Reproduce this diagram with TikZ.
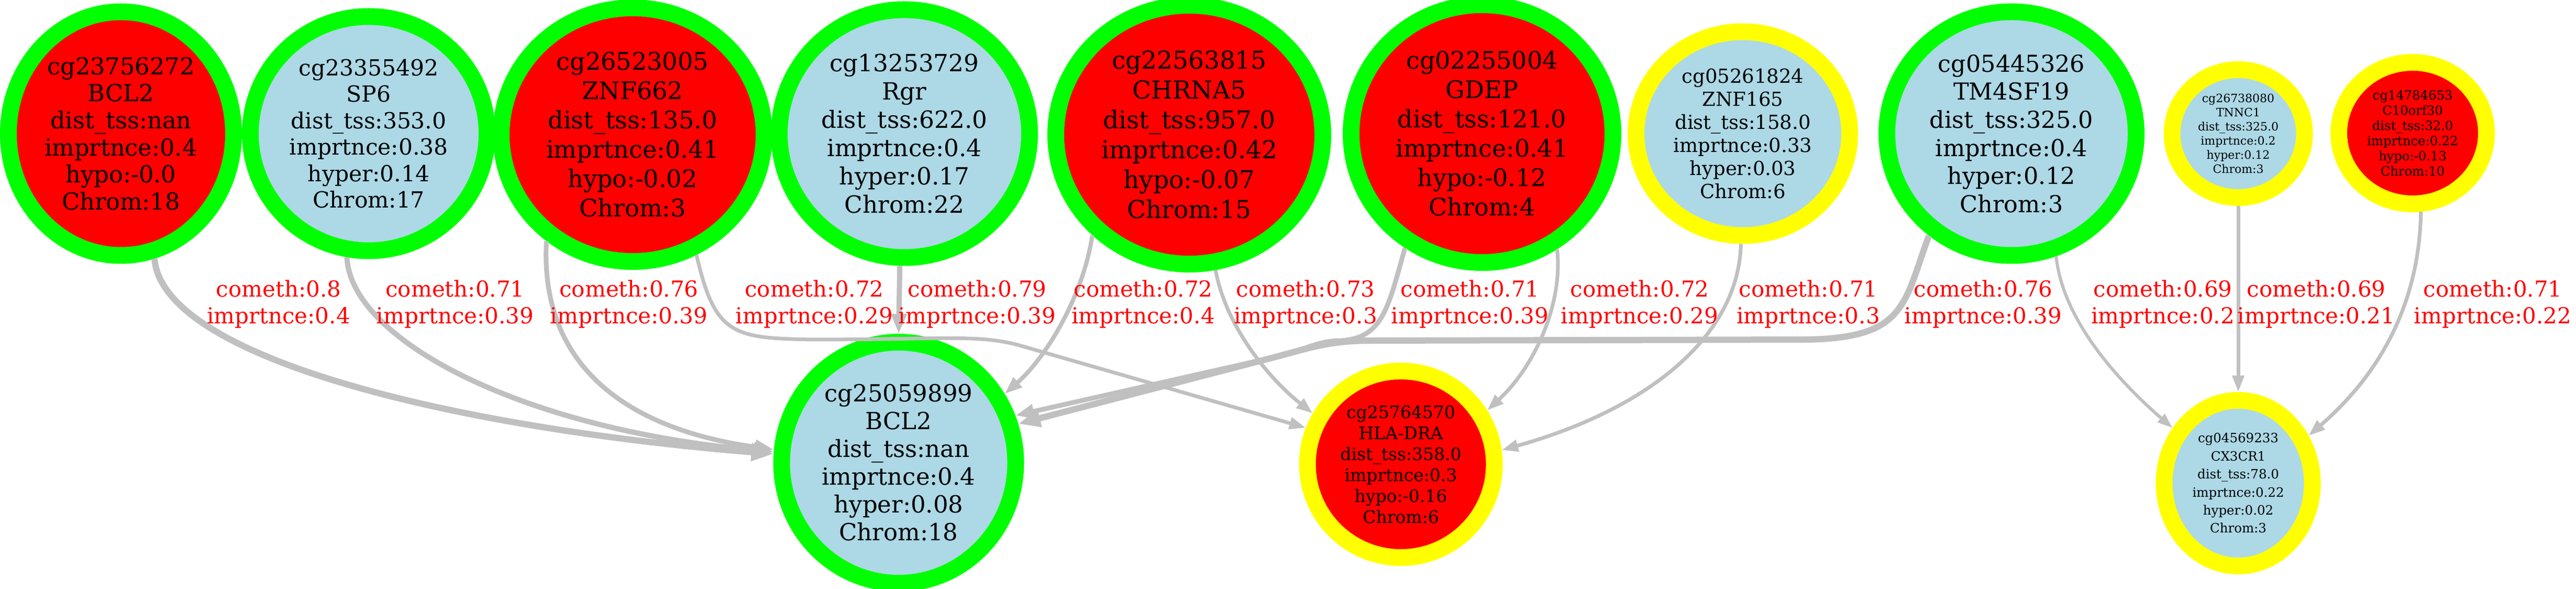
\documentclass[tikz,border=0pt]{standalone}
\usepackage{fontspec}
\setmainfont{DejaVu Serif}
\usepackage{tikz}
\usetikzlibrary{shapes.geometric,arrows.meta}
\definecolor{hypored}{HTML}{FF0000}
\definecolor{hyperblue}{HTML}{ADD8E6}
\definecolor{ringgreen}{HTML}{00FF00}
\definecolor{ringyellow}{HTML}{FFFF00}
\definecolor{linkgray}{HTML}{C0C0C0}
\newcommand{\pfont}[2]{\fontsize{#1pt}{#2pt}\selectfont}
\tikzset{
	cpg/.style={ellipse, line width=0.32cm, align=center, inner sep=0pt},
	hypo/.style={fill=hypored},
	hyper/.style={fill=hyperblue},
	strong/.style={draw=ringgreen},
	weak/.style={draw=ringyellow},
	wide/.style={minimum width=#1cm},
	tall/.style={minimum height=#1cm},
	link/.style={draw=linkgray, -{Triangle[length=0.16cm 2.2, width=0.08cm 2]}},
	tag/.style={text=hypored, align=center, inner sep=0pt, font=\pfont{11.95}{14.5}}
}

\begin{document}
\begin{tikzpicture}[scale=1]
				\useasboundingbox (0.00, 0.00) rectangle (49.19, -11.24);

				\node[cpg, hypo, strong, wide=4.30, tall=4.65, font=\pfont{12.72}{14.71}] (cpg0) at (2.31, -2.55) {cg23756272\\BCL2\\dist\_tss:nan\\imprtnce:0.4\\hypo:-0.0\\Chrom:18};
				\node[cpg, hyper, strong, wide=4.52, tall=4.47, font=\pfont{12.06}{14.37}] (cpg1) at (7.04, -2.55) {cg23355492\\SP6\\dist\_tss:353.0\\imprtnce:0.38\\hyper:0.14\\Chrom:17};
				\node[cpg, hypo, strong, wide=5.02, tall=4.84, font=\pfont{13.12}{15.93}] (cpg2) at (12.08, -2.57) {cg26523005\\ZNF662\\dist\_tss:135.0\\imprtnce:0.41\\hypo:-0.02\\Chrom:3};
				\node[cpg, hyper, strong, wide=4.78, tall=4.73, font=\pfont{12.89}{15.36}] (cpg3) at (17.27, -2.55) {cg13253729\\Rgr\\dist\_tss:622.0\\imprtnce:0.4\\hyper:0.17\\Chrom:22};
				\node[cpg, hypo, strong, wide=5.10, tall=4.94, font=\pfont{13.37}{16.22}] (cpg4) at (22.71, -2.57) {cg22563815\\CHRNA5\\dist\_tss:957.0\\imprtnce:0.42\\hypo:-0.07\\Chrom:15};
				\node[cpg, hypo, strong, wide=5.00, tall=4.92, font=\pfont{13.09}{15.93}] (cpg5) at (28.30, -2.55) {cg02255004\\GDEP\\dist\_tss:121.0\\imprtnce:0.41\\hypo:-0.12\\Chrom:4};
				\node[cpg, hyper, weak, wide=4.08, tall=3.89, font=\pfont{10.53}{12.52}] (cpg6) at (33.28, -2.55) {cg05261824\\ZNF165\\dist\_tss:158.0\\imprtnce:0.33\\hyper:0.03\\Chrom:6};
				\node[cpg, hyper, strong, wide=4.76, tall=4.65, font=\pfont{12.69}{15.25}] (cpg7) at (38.41, -2.55) {cg05445326\\TM4SF19\\dist\_tss:325.0\\imprtnce:0.4\\hyper:0.12\\Chrom:3};
				\node[cpg, hyper, weak, wide=2.53, tall=2.44, font=\pfont{6.26}{7.68}] (cpg8) at (42.74, -2.55) {cg26738080\\TNNC1\\dist\_tss:325.0\\imprtnce:0.2\\hyper:0.12\\Chrom:3};
				\node[cpg, hypo, weak, wide=2.82, tall=2.70, font=\pfont{6.91}{8.25}] (cpg9) at (46.07, -2.54) {cg14784653\\C10orf30\\dist\_tss:32.0\\imprtnce:0.22\\hypo:-0.13\\Chrom:10};
				\node[cpg, hyper, strong, wide=4.47, tall=4.60, font=\pfont{12.80}{15.08}] (cpg10) at (17.16, -8.83) {cg25059899\\BCL2\\dist\_tss:nan\\imprtnce:0.4\\hyper:0.08\\Chrom:18};
				\node[cpg, hypo, weak, wide=3.57, tall=3.56, font=\pfont{9.39}{11.38}] (cpg11) at (26.75, -8.86) {cg25764570\\HLA-DRA\\dist\_tss:358.0\\imprtnce:0.3\\hypo:-0.16\\Chrom:6};
				\node[cpg, hyper, weak, wide=2.83, tall=3.16, font=\pfont{6.97}{9.79}] (cpg12) at (42.74, -9.22) {cg04569233\\CX3CR1\\dist\_tss:78.0\\imprtnce:0.22\\hyper:0.02\\Chrom:3};

				\draw[link, line width=0.12cm] (cpg0.-75) .. controls (3.10, -6.80) and (8.50, -8.15) .. (cpg10.176);
				\draw[link, line width=0.10cm] (cpg1.-100) .. controls (6.70, -6.50) and (10.00, -8.20) .. (cpg10.175);
				\draw[link, line width=0.09cm] (cpg2.-129) .. controls (10.30, -7.00) and (12.00, -8.20) .. (cpg10.174);
				\draw[link, line width=0.07cm] (cpg2.-62) .. controls (13.65, -6.40) and (14.00, -6.45) .. (15.50, -6.48) .. controls (18.00, -6.48) and (18.70, -6.37) .. (19.50, -6.60) -- (cpg11.159);
				\draw[link, line width=0.10cm] (cpg3.-92.5) -- (cpg10.north);
				\draw[link, line width=0.08cm] (cpg4.-134) .. controls (20.70, -5.60) and (20.00, -6.80) .. (cpg10.33);
				\draw[link, line width=0.07cm] (cpg4.-79) .. controls (23.40, -6.20) and (24.20, -7.20) .. (cpg11.150);
				\draw[link, line width=0.09cm] (cpg5.-124) .. controls (26.50, -5.90) and (26.40, -6.45) .. (25.60, -6.50) .. controls (25.20, -6.50) and (25.00, -6.64) .. (24.40, -6.80) -- (cpg10.22);
				\draw[link, line width=0.07cm] (cpg5.-57) .. controls (29.85, -5.80) and (29.30, -7.00) .. (cpg11.32);
				\draw[link, line width=0.07cm] (cpg6.-91) .. controls (33.20, -6.40) and (31.50, -7.80) .. (cpg11.8.5);
				\draw[link, line width=0.12cm] (cpg7.-129) .. controls (36.35, -5.80) and (36.40, -6.45) .. (34.50, -6.48) -- (26.20, -6.50) .. controls (25.40, -6.50) and (25.00, -6.64) .. (24.40, -6.80) -- (cpg10.18);
				\draw[link, line width=0.06cm] (cpg7.-70) .. controls (39.40, -6.20) and (40.60, -7.40) .. (cpg12.140);
				\draw[link, line width=0.07cm] (cpg8) -- (cpg12);
				\draw[link, line width=0.07cm] (cpg9.-84.5) .. controls (46.20, -5.60) and (45.60, -7.00) .. (cpg12.34);

				\node[tag] (lbl0) at (5.32, -5.80) {cometh:0.8\\imprtnce:0.4};
				\node[tag] (lbl1) at (8.69, -5.80) {cometh:0.71\\imprtnce:0.39};
				\node[tag] (lbl2) at (12.01, -5.80) {cometh:0.76\\imprtnce:0.39};
				\node[tag] (lbl3) at (15.55, -5.80) {cometh:0.72\\imprtnce:0.29};
				\node[tag] (lbl4) at (18.66, -5.80) {cometh:0.79\\imprtnce:0.39};
				\node[tag] (lbl5) at (21.83, -5.80) {cometh:0.72\\imprtnce:0.4};
				\node[tag] (lbl6) at (24.93, -5.80) {cometh:0.73\\imprtnce:0.3};
				\node[tag] (lbl7) at (28.07, -5.80) {cometh:0.71\\imprtnce:0.39};
				\node[tag] (lbl8) at (31.31, -5.80) {cometh:0.72\\imprtnce:0.29};
				\node[tag] (lbl9) at (34.53, -5.80) {cometh:0.71\\imprtnce:0.3};
				\node[tag] (lbl10) at (37.87, -5.80) {cometh:0.76\\imprtnce:0.39};
				\node[tag] (lbl11) at (41.30, -5.80) {cometh:0.69\\imprtnce:0.2};
				\node[tag] (lbl12) at (44.23, -5.80) {cometh:0.69\\imprtnce:0.21};
				\node[tag] (lbl13) at (47.60, -5.80) {cometh:0.71\\imprtnce:0.22};
\end{tikzpicture}
\end{document}
